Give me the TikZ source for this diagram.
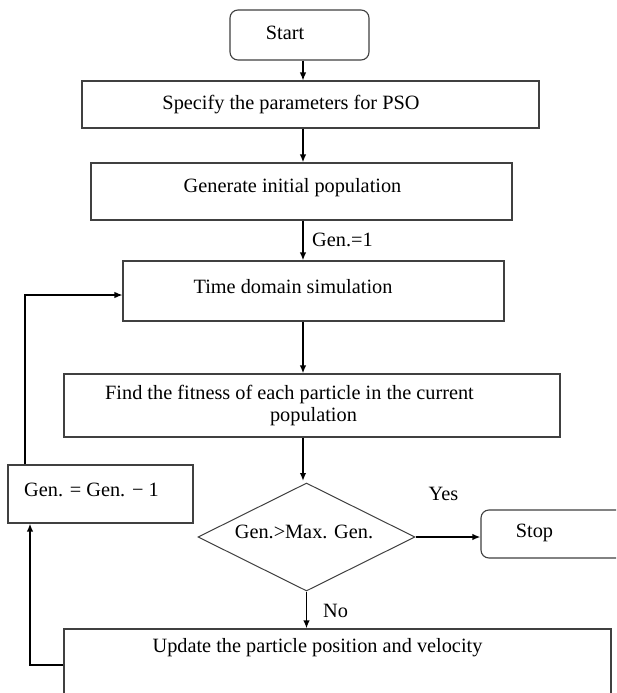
\documentclass[tikz,border=0pt]{standalone}
\usepackage{fontspec}
\setmainfont{Liberation Serif}
\usetikzlibrary{shapes.geometric,arrows.meta}
\begin{document}
\begin{tikzpicture}[x=1pt,y=-1pt,
  box/.style={draw=black!75, line width=1.1pt, inner sep=0pt},
  rbox/.style={box, rounded corners=8pt},
  txt/.style={inner sep=0pt, font=\fontsize{20.3}{24}\selectfont, text=black},
  arr/.style={-{Latex[length=8pt,width=6.5pt]}, line width=1.8pt},
  tarr/.style={-{Latex[length=8pt,width=6.5pt]}, line width=1.2pt},
]
\useasboundingbox (0,0) rectangle (616,693);
\clip (0,0) rectangle (616,693);
\fill[white] (0,0) rectangle (616,693);

% boxes
\node[rbox, minimum width=139pt, minimum height=50pt] (start) at (299.5,35) {};
\node[txt] (tstart) at (285,33) {Start};
\node[box, minimum width=457pt, minimum height=47pt] (spec) at (310.5,104.5) {};
\node[txt] (tspec) at (291,105) {Specify the parameters for PSO};
\node[box, minimum width=421pt, minimum height=57pt] (gen0) at (301.5,191.5) {};
\node[txt] (tgen0) at (292.5,188) {Generate initial population};
\node[box, minimum width=381pt, minimum height=60pt] (time) at (313.5,291) {};
\node[txt] (ttime) at (293,287) {Time domain simulation};
\node[box, minimum width=496pt, minimum height=63pt] (fit) at (312,405.5) {};
\node[txt] (tfit1) at (289.5,395) {Find the fitness of each particle in the current};
\node[txt] (tfit2) at (313.5,417) {population};
\node[box, minimum width=185pt, minimum height=58pt] (genm) at (100.5,494) {};
\node[txt] (tgenm) at (91.5,490) {Gen. = Gen. − 1};
\node[diamond, draw=black!75, line width=1pt, aspect=2, minimum width=217pt, minimum height=108pt, inner sep=0pt] (dec) at (306.5,537) {};
\node[txt] (tdec) at (304,532) {Gen.>Max. Gen.};
\node[rbox, minimum width=150pt, minimum height=48pt] (stop) at (556,534) {};
\node[txt] (tstop) at (534.5,533) {Stop};
\node[box, minimum width=547pt, minimum height=72pt] (upd) at (337.5,665) {};
\node[txt] (tupd) at (317.5,648) {Update the particle position and velocity};

% labels
\node[txt, anchor=west] (lg1) at (312,240) {Gen.=1};
\node[txt] (lyes) at (443.5,494) {Yes};
\node[txt, anchor=west] (lno) at (323,611) {No};

% connectors
\coordinate (c1) at (303,0);
\draw[tarr] (start.south -| c1) -- (spec.north -| c1);
\draw[arr] (spec.south -| c1) -- (gen0.north -| c1);
\draw[arr] (gen0.south -| c1) -- (time.north -| c1);
\draw[arr] (time.south -| c1) -- (fit.north -| c1);
\draw[arr] (fit.south -| c1) -- ([yshift=1.5pt]dec.north -| c1);
\draw[arr] (dec.east) -- (dec.east -| stop.west);
\draw[arr] (dec.south) -- (upd.north -| dec.south);
\coordinate (c3) at (30,0);
\draw[arr] (upd.west) -| (genm.south -| c3);
\coordinate (c4) at (25,295);
\draw[tarr] (genm.north -| c4) |- (time.west |- c4);
\end{tikzpicture}
\end{document}
